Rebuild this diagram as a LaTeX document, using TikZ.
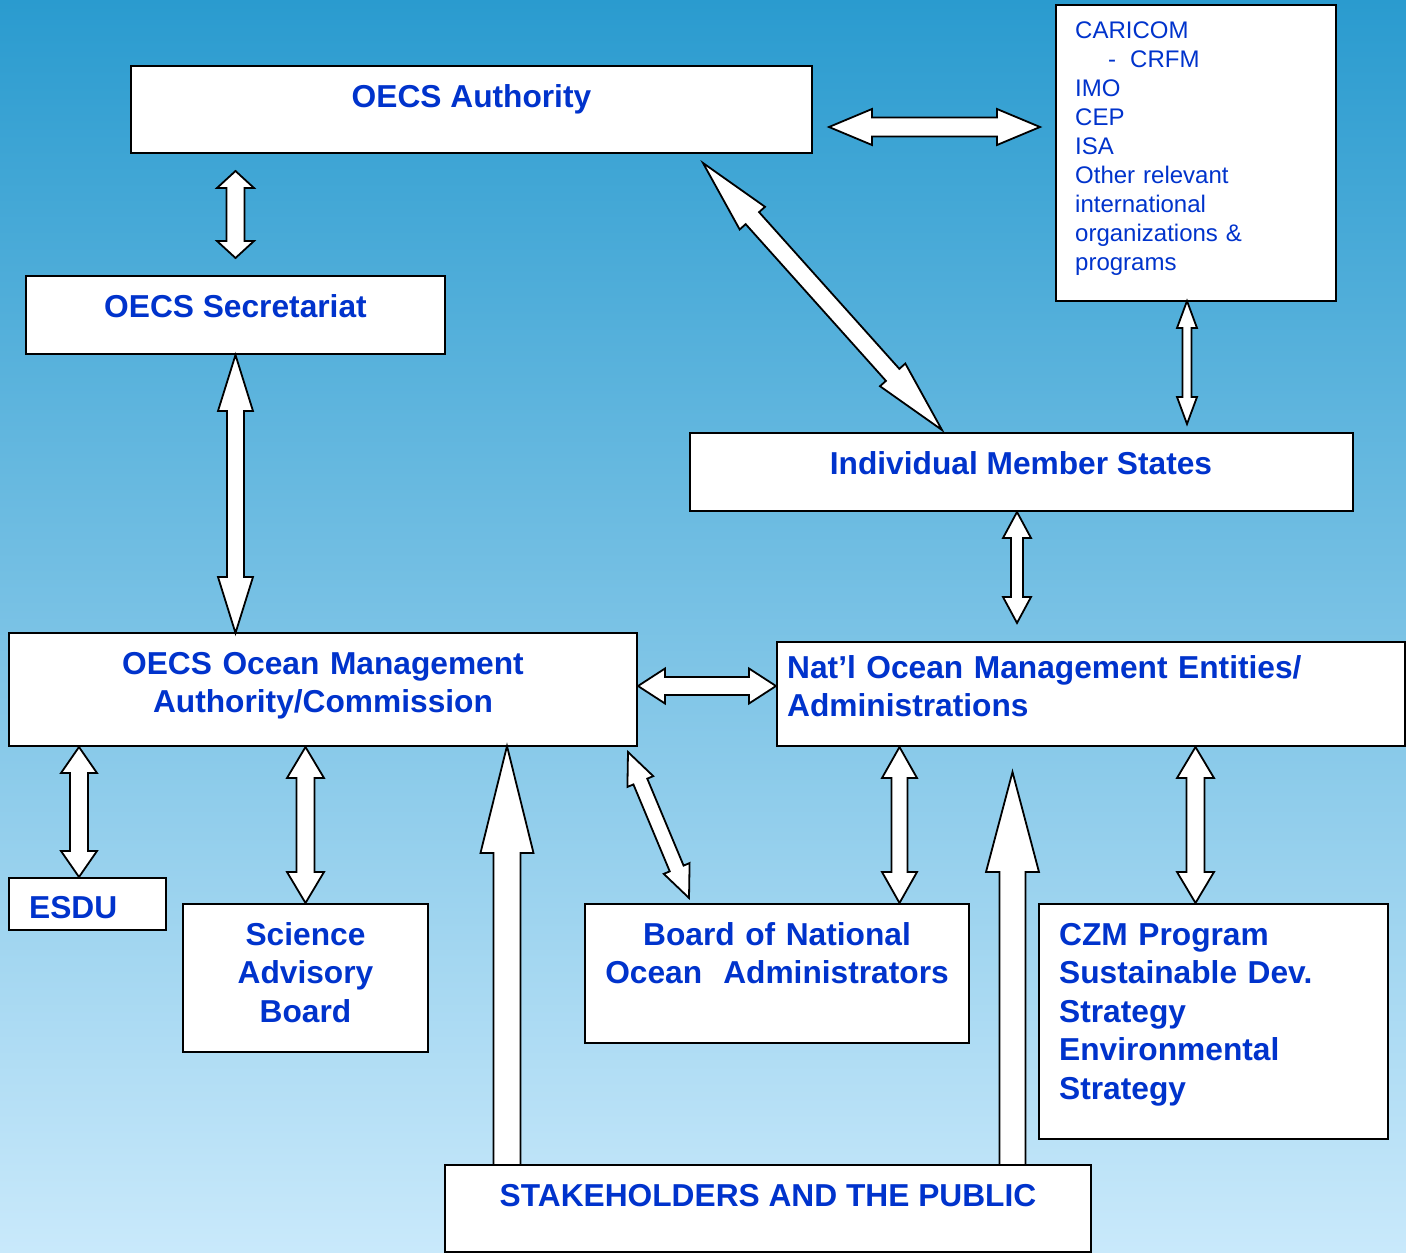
\documentclass[tikz,border=0pt]{standalone}
\usepackage{fontspec}
\setmainfont{Liberation Sans}
\usetikzlibrary{calc}
\definecolor{txtblue}{RGB}{0,51,204}
\definecolor{bgtop}{RGB}{42,155,207}
\definecolor{bgbot}{RGB}{201,233,251}
\tikzset{
  box/.style={draw=black, line width=2pt, fill=white, inner sep=0pt, outer sep=0pt},
  lbl/.style={text=txtblue, inner sep=0pt, font=\fontsize{31.7pt}{38.5pt}\selectfont\bfseries},
  small/.style={text=txtblue, inner sep=0pt, font=\fontsize{24pt}{29pt}\selectfont},
  blockarrow/.style={draw=black, line width=1.8pt, fill=white, line join=miter}
}
\newcommand\myDblArrow[5]{% A, B, half shaft, half head, head length
  \coordinate (ha) at ($(#1)!#5!(#2)$);
  \coordinate (hb) at ($(#2)!#5!(#1)$);
  \draw[blockarrow] (#1) -- ($(ha)!#4!90:(#2)$) -- ($(ha)!#3!90:(#2)$)
     -- ($(hb)!#3!-90:(#1)$) -- ($(hb)!#4!-90:(#1)$) -- (#2)
     -- ($(hb)!#4!90:(#1)$) -- ($(hb)!#3!90:(#1)$)
     -- ($(ha)!#3!-90:(#2)$) -- ($(ha)!#4!-90:(#2)$) -- cycle;
}
\newcommand\mySglArrow[5]{% tip, base, half shaft, half head, head length
  \coordinate (ha) at ($(#1)!#5!(#2)$);
  \draw[blockarrow] (#1) -- ($(ha)!#4!90:(#2)$) -- ($(ha)!#3!90:(#2)$)
     -- ($(#2)!#3!-90:(#1)$) -- ($(#2)!#3!90:(#1)$)
     -- ($(ha)!#3!-90:(#2)$) -- ($(ha)!#4!-90:(#2)$) -- cycle;
}
\begin{document}
\begin{tikzpicture}[x=1pt,y=-1pt]
\useasboundingbox (0,0) rectangle (1406,1253);
\shade[top color=bgtop, bottom color=bgbot] (0,0) rectangle (1406,1253);

% boxes
\node[box, minimum width=681pt, minimum height=87pt] (auth) at (471.5,109.5) {};
\node[box, minimum width=280pt, minimum height=296pt] (car) at (1196,153) {};
\node[box, minimum width=419pt, minimum height=78pt] (sec) at (235.5,315) {};
\node[box, minimum width=663pt, minimum height=78pt] (ims) at (1021.5,472) {};
\node[box, minimum width=628pt, minimum height=113pt] (oom) at (323,689.5) {};
\node[box, minimum width=628pt, minimum height=104pt] (nat) at (1091,694) {};
\node[box, minimum width=157pt, minimum height=52pt] (esdu) at (87.5,904) {};
\node[box, minimum width=245pt, minimum height=148pt] (sab) at (305.5,978) {};
\node[box, minimum width=384pt, minimum height=139pt] (bno) at (777,973.5) {};
\node[box, minimum width=349pt, minimum height=235pt] (czm) at (1213.5,1021.5) {};
\node[box, minimum width=646pt, minimum height=87pt] (stk) at (768,1208.5) {};

% texts
\node[lbl, anchor=base] (authT) at (471.5,107) {OECS Authority};
\node[small, anchor=base west, text width=250pt, align=left] (carT) at (1075,38)
  {CARICOM\\\hspace*{33pt}-\hspace{14pt}CRFM\\IMO\\CEP\\ISA\\Other relevant\\international\\organizations \&\\programs};
\node[lbl, anchor=base] (secT) at (235.5,317) {OECS Secretariat};
\node[lbl, anchor=base] (imsT) at (1021,474) {Individual Member States};
\node[lbl, anchor=base, text width=620pt, align=center] (oomT) at (323,674)
  {OECS Ocean Management\\Authority/Commission};
\node[lbl, anchor=base west, text width=610pt, align=left] (natT) at (787,678)
  {Nat’l Ocean Management Entities/\\Administrations};
\node[lbl, anchor=base west] (esduT) at (29,918) {ESDU};
\node[lbl, anchor=base, text width=240pt, align=center] (sabT) at (305.5,945)
  {Science\\Advisory\\Board};
\node[lbl, anchor=base, text width=380pt, align=center] (bnoT) at (777,945)
  {Board of National\\Ocean\ \ Administrators};
\node[lbl, anchor=base west, text width=330pt, align=left] (czmT) at (1059,945)
  {CZM Program\\Sustainable Dev.\\Strategy\\Environmental\\Strategy};
\node[lbl, anchor=base] (stkT) at (768,1206) {STAKEHOLDERS AND THE PUBLIC};

% connector end points
\coordinate (a1) at ($(auth.east)+(17,17.5)$);
\coordinate (a2) at ($(car.west)+(-16,-26)$);
\coordinate (b1) at ($(auth.south -| sec.north)+(0,18)$);
\coordinate (b2) at ($(sec.north)+(0,-18)$);
\coordinate (c1) at ($(sec.south)+(0,1)$);
\coordinate (c2) at (oom.north -| sec.south);
\coordinate (d1) at ($(auth.south east)+(-109,10)$);
\coordinate (d2) at ($(ims.north west)+(252,-3)$);
\coordinate (e1) at ($(car.south)+(-9,0)$);
\coordinate (e2) at ($(ims.north -| e1)+(0,-9)$);
\coordinate (f1) at ($(ims.south)+(-4.5,1)$);
\coordinate (f2) at ($(nat.north -| f1)+(0,-19)$);
\coordinate (g1) at ($(oom.east)+(1,-3.5)$);
\coordinate (g2) at ($(nat.west |- g1)+(-1,0)$);
\coordinate (h1) at ($(oom.south -| esdu.north)+(-8.5,1)$);
\coordinate (h2) at ($(esdu.north)+(-8.5,-1)$);
\coordinate (i1) at ($(oom.south -| sab.north)+(0,1)$);
\coordinate (i2) at ($(sab.north)+(0,-1)$);
\coordinate (j1) at ($(oom.south east)+(-9,6)$);
\coordinate (j2) at ($(bno.north west)+(104,-6)$);
\coordinate (k1) at ($(nat.south west)+(122.5,1)$);
\coordinate (k2) at ($(bno.north)+(122.5,-1)$);
\coordinate (l1) at ($(nat.south -| czm.north)+(-18,1)$);
\coordinate (l2) at ($(czm.north)+(-18,-1)$);
\coordinate (m1) at ($(oom.south west)+(498,0)$);
\coordinate (m2) at ($(stk.north west)+(62,0)$);
\coordinate (n1) at ($(nat.south west)+(235.5,26)$);
\coordinate (n2) at ($(stk.north west)+(567.5,0)$);

% connectors
\myDblArrow{a1}{a2}{9.5pt}{18pt}{43pt}
\myDblArrow{b1}{b2}{9pt}{18.5pt}{17pt}
\myDblArrow{c1}{c2}{8.5pt}{17.5pt}{56pt}
\myDblArrow{d1}{d2}{9pt}{17pt}{74pt}
\myDblArrow{e1}{e2}{4.5pt}{10pt}{27pt}
\myDblArrow{f1}{f2}{6pt}{14pt}{26pt}
\myDblArrow{g1}{g2}{9pt}{17.5pt}{27pt}
\myDblArrow{h1}{h2}{9pt}{18pt}{26pt}
\myDblArrow{i1}{i2}{9pt}{18.5pt}{31pt}
\myDblArrow{j1}{j2}{7.5pt}{14pt}{32pt}
\myDblArrow{k1}{k2}{8pt}{17.5pt}{31pt}
\myDblArrow{l1}{l2}{9pt}{18.5pt}{31pt}
\mySglArrow{m1}{m2}{13.5pt}{26.5pt}{107pt}
\mySglArrow{n1}{n2}{13pt}{26.5pt}{100pt}
\end{tikzpicture}
\end{document}
